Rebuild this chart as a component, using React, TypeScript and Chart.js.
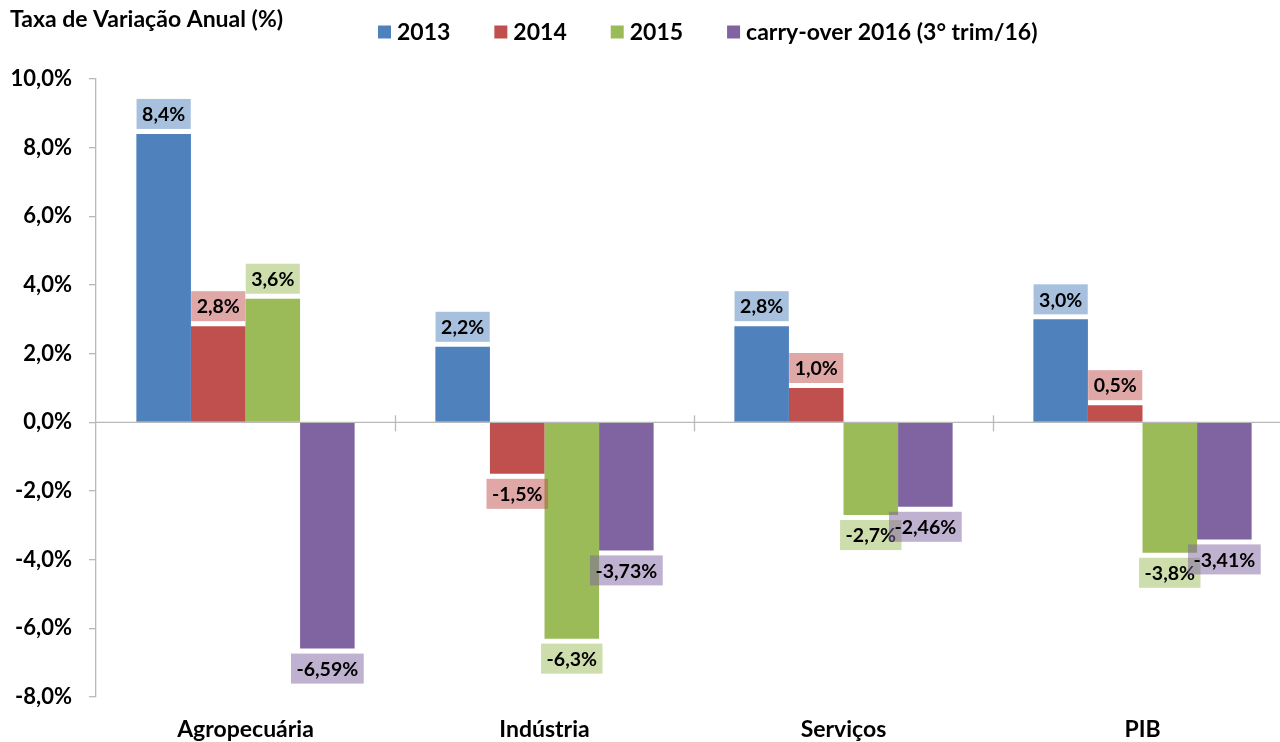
import React, { useEffect, useRef } from "react";
import { Chart, registerables } from "chart.js";
Chart.register(...registerables);

const categories = ["Agropecuária", "Indústria", "Serviços", "PIB"];
const seriesNames = ["2013", "2014", "2015", "carry-over 2016 (3° trim/16)"];
const values2013 = [8.4, 2.2, 2.8, 3.0];
const values2014 = [2.8, -1.5, 1.0, 0.5];
const values2015 = [3.6, -6.3, -2.7, -3.8];
const valuesCarry = [-6.59, -3.73, -2.46, -3.41];
const seriesDecimals = [1, 1, 1, 2];
const yMin = -8;
const yMax = 10;
const yStep = 2;
const titleText = "Taxa de Variação Anual (%)";

const colors = ["#4F81BD", "#C0504D", "#9BBB59", "#8064A2"];
const labelBg = [
  "rgba(79,129,189,0.5)",
  "rgba(192,80,77,0.5)",
  "rgba(155,187,89,0.5)",
  "rgba(128,100,162,0.5)",
];
const FONT = "Lato, 'Open Sans', sans-serif";
const AXIS = "#B9B9B9";

const fmt = (v: number, d: number) => v.toFixed(d).replace(".", ",") + "%";

const overlayPlugin = {
  id: "overlay",
  afterDatasetsDraw(chart: any) {
    const ctx = chart.ctx;
    const area = chart.chartArea;
    const xs = chart.scales.x;
    const ys = chart.scales.y;
    const y0 = ys.getPixelForValue(0);
    ctx.save();
    // zero line
    ctx.strokeStyle = AXIS;
    ctx.lineWidth = 1.3;
    ctx.beginPath();
    ctx.moveTo(area.left, y0);
    ctx.lineTo(area.right, y0);
    ctx.stroke();
    // category boundary ticks
    for (let i = 0; i < categories.length - 1; i++) {
      const xa = xs.getPixelForValue(i);
      const xb = xs.getPixelForValue(i + 1);
      const xm = Math.round((xa + xb) / 2) + 0.5;
      ctx.beginPath();
      ctx.moveTo(xm, y0 - 7);
      ctx.lineTo(xm, y0 + 9);
      ctx.stroke();
    }
    // data labels
    ctx.font = `bold 19.5px ${FONT}`;
    ctx.textAlign = "center";
    ctx.textBaseline = "middle";
    chart.data.datasets.forEach((ds: any, di: number) => {
      const meta = chart.getDatasetMeta(di);
      meta.data.forEach((el: any, i: number) => {
        const v = ds.data[i];
        const txt = fmt(v, seriesDecimals[di]);
        const tw = ctx.measureText(txt).width;
        const w = tw + 11;
        const h = 30;
        const top = v >= 0 ? el.y - 5 - h : el.y + 5;
        ctx.fillStyle = labelBg[di];
        ctx.fillRect(el.x - w / 2, top, w, h);
        ctx.fillStyle = "#000";
        ctx.fillText(txt, el.x, top + h / 2 + 1);
      });
    });
    ctx.restore();
  },
  afterDraw(chart: any) {
    const ctx = chart.ctx;
    ctx.save();
    ctx.fillStyle = "#000";
    ctx.textBaseline = "middle";
    ctx.textAlign = "left";
    ctx.font = `bold 23px ${FONT}`;
    ctx.fillText(titleText, 10, 20);
    // legend
    ctx.font = `bold 23px ${FONT}`;
    let x = 378;
    const cy = 32;
    seriesNames.forEach((name, i) => {
      ctx.fillStyle = colors[i];
      ctx.fillRect(x, cy - 6.5, 13, 13);
      ctx.fillStyle = "#000";
      ctx.fillText(name, x + 19, cy + 1);
      x += 19 + ctx.measureText(name).width + 44;
    });
    ctx.restore();
  },
};

export default function App() {
  const ref = useRef<HTMLCanvasElement>(null);
  useEffect(() => {
    document.body.style.overflow = "hidden";
    const seriesValues = [values2013, values2014, values2015, valuesCarry];
    const chart = new Chart(ref.current!, {
      type: "bar",
      data: {
        labels: categories,
        datasets: seriesNames.map((n, i) => ({
          label: n,
          data: seriesValues[i],
          backgroundColor: colors[i],
          borderWidth: 0,
          barPercentage: 1,
          categoryPercentage: 0.73,
        })),
      },
      options: {
        responsive: false,
        animation: false,
        events: [],
        layout: { padding: { top: 79, right: 8, left: 0, bottom: 0 } },
        plugins: { legend: { display: false }, tooltip: { enabled: false } },
        scales: {
          x: {
            grid: { display: false, drawTicks: false },
            border: { display: false },
            ticks: {
              color: "#000",
              font: { family: FONT, size: 23, weight: "bold" },
              padding: 19,
            },
            afterFit: (s: any) => {
              s.height = 45;
            },
          },
          y: {
            min: yMin,
            max: yMax,
            ticks: {
              stepSize: yStep,
              color: "#000",
              font: { family: FONT, size: 22, weight: "bold" },
              padding: 17,
              callback: (v: any) => fmt(Number(v), 1),
            },
            grid: {
              drawOnChartArea: false,
              drawTicks: true,
              tickLength: 7,
              color: AXIS,
              lineWidth: 1.3,
            },
            border: { display: true, color: AXIS, width: 1.3 },
            afterFit: (s: any) => {
              s.width = 96;
            },
          },
        },
      },
      plugins: [overlayPlugin],
    });
    return () => chart.destroy();
  }, []);
  return (
    <div style={{ position: "fixed", left: 0, top: 0, width: 1300, height: 742 }}>
      <canvas ref={ref} width={1300} height={742} style={{ display: "block" }} />
    </div>
  );
}
